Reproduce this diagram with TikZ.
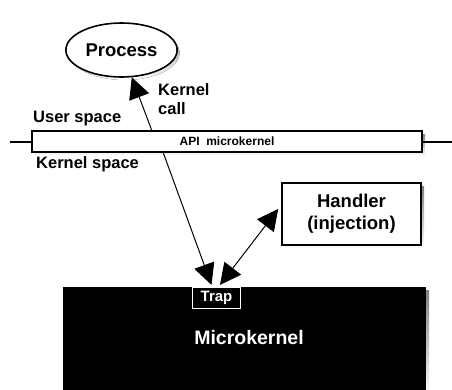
\documentclass[tikz,border=0pt]{standalone}
\usepackage{fontspec}
\setmainfont{Liberation Sans}
\usetikzlibrary{shapes.geometric,arrows.meta,calc}
\definecolor{shade}{gray}{0.78}
\tikzset{
  lbl/.style={font=\bfseries, inner sep=0pt},
  outline/.style={draw=black, line width=1.6pt, fill=white},
  bighead/.tip={Triangle[length=21pt,width=21pt]},
  conn/.style={line width=1pt, arrows={-bighead}},
  both/.style={line width=1pt, arrows={bighead-bighead}},
}
\begin{document}
\begin{tikzpicture}[x=1pt,y=-1pt]
\useasboundingbox (0,0) rectangle (452,389);
% soft shadows behind the framed shapes
\fill[shade] (124.5,53) ellipse [x radius=55, y radius=27];
\fill[shade] (35,134) rectangle (425,155);
\fill[shade] (285,186) rectangle (424,249);
\fill[shade] (66,290) rectangle (429,395);

% process
\node[ellipse, outline, minimum width=110, minimum height=54, font=\bfseries\fontsize{18.5}{20}\selectfont]
  (proc) at (121.5,50) {Process};

% boundary between user and kernel space
\node[rectangle, outline, minimum width=390, minimum height=21, inner sep=0pt,
      font=\bfseries\fontsize{12}{14}\selectfont] (bar) at (227,141.5) {API\ \ microkernel};
\coordinate (lend) at (10,141.5);
\coordinate (rend) at (452,141.5);
\draw[line width=2pt] (lend) -- (bar.west);
\draw[line width=2pt] (bar.east) -- (rend);

\node[lbl, anchor=west, font=\bfseries\fontsize{16.5}{18}\selectfont] (us) at (33,119) {User space};
\node[lbl, anchor=west, font=\bfseries\fontsize{16.5}{18}\selectfont] (ks) at (36,164) {Kernel space};
\node[lbl, anchor=north west, align=left, font=\bfseries\fontsize{16.5}{19}\selectfont] (kc) at (158,83) {Kernel\\call};

% handler
\node[rectangle, outline, minimum width=139, minimum height=62, align=center,
      font=\bfseries\fontsize{18.5}{22}\selectfont] (hand) at (351.5,214) {Handler\\(injection)};

% microkernel block
\node[rectangle, fill=black, minimum width=363, minimum height=110, inner sep=0pt] (mk) at (244.5,342) {};
\node[lbl, text=white, font=\bfseries\fontsize{19.5}{21}\selectfont] (mkl) at (249,338) {Microkernel};
\node[rectangle, draw=white, fill=black, text=white, line width=1.2pt, minimum width=48, minimum height=21, inner sep=0pt,
      font=\bfseries\fontsize{15}{17}\selectfont] (trap) at (216.5,298) {Trap};

% connectors
\coordinate (up0) at (152,131);
\coordinate (dn0) at (163,152);
\coordinate (t1) at ($(trap.north)+(-5,-2)$);
\coordinate (t2) at ($(trap.north)+(3.5,-2)$);
\coordinate (h1) at ($(hand.west)+(-3,-5)$);
\draw[conn] (up0) -- (proc);
\draw[conn] (dn0) -- (t1);
\draw[both] (t2) -- (h1);
\end{tikzpicture}
\end{document}
